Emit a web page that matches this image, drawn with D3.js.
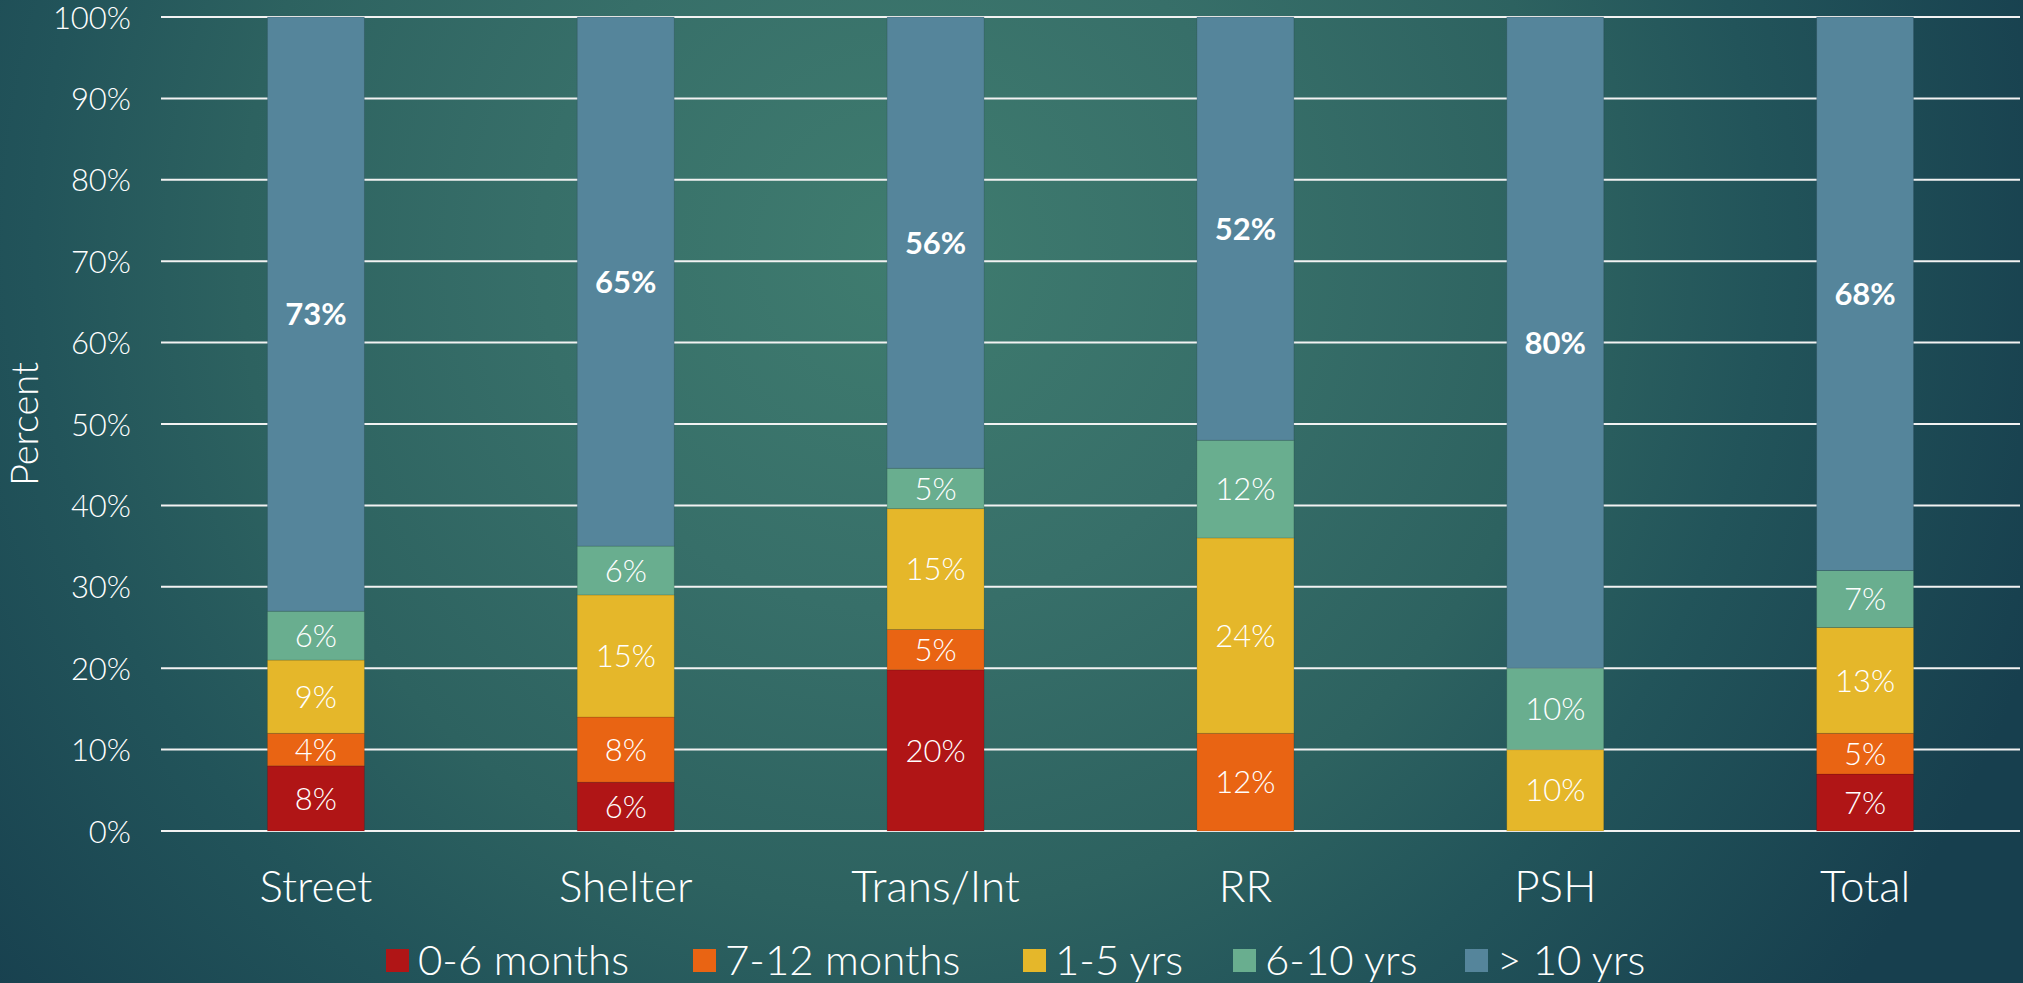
<!DOCTYPE html>
<html>
<head>
<meta charset="utf-8">
<script src="https://cdn.jsdelivr.net/npm/d3@7"></script>
<style>
  html, body { margin: 0; padding: 0; background: #1d4b54; overflow: hidden; }
  svg { display: block; }
  text { font-family: Lato, "Open Sans", sans-serif; fill: #ffffff; }
</style>
</head>
<body>
<div class="chart"></div>
<script>
// chart data
var categories = ['Street', 'Shelter', 'Trans/Int', 'RR', 'PSH', 'Total'];
var seriesNames = ['0-6 months', '7-12 months', '1-5 yrs', '6-10 yrs', '> 10 yrs'];
var months0to6 = [8, 6, 20, 0, 0, 7];
var months7to12 = [4, 8, 5, 12, 0, 5];
var yrs1to5 = [9, 15, 15, 24, 10, 13];
var yrs6to10 = [6, 6, 5, 12, 10, 7];
var yrsOver10 = [73, 65, 56, 52, 80, 68];
var yTickValues = [0, 10, 20, 30, 40, 50, 60, 70, 80, 90, 100];
var colors = ['#b01516', '#e96413', '#e5b72a', '#69ae8f', '#55859b'];

var w = 2023,
  h = 983,
  margin = { top: 17, right: 3, bottom: 152, left: 161 };

// rows for d3.stack
var seriesValues = [months0to6, months7to12, yrs1to5, yrs6to10, yrsOver10];
var rows = categories.map(function (c, i) {
  var row = { category: c };
  seriesNames.forEach(function (s, j) {
    row[s] = seriesValues[j][i];
  });
  return row;
});

// 100% stacked columns
var stack = d3.stack()
  .keys(seriesNames)
  .offset(d3.stackOffsetExpand);
var layers = stack(rows);

var svg = d3.select('.chart')
  .append('svg')
  .attr('width', w)
  .attr('height', h);

// background gradient
var defs = svg.append('defs');
var grad = defs.append('radialGradient')
  .attr('id', 'bg')
  .attr('gradientUnits', 'userSpaceOnUse')
  .attr('cx', 900)
  .attr('cy', 250)
  .attr('r', 1200);
[[0, '#3f7c6f'], [0.3, '#376f69'], [0.55, '#2d6260'], [0.72, '#22545a'], [1, '#173f4e']].forEach(function (s) {
  grad.append('stop').attr('offset', s[0]).attr('stop-color', s[1]);
});
svg.append('rect')
  .attr('width', w)
  .attr('height', h)
  .attr('fill', 'url(#bg)');

var x = d3.scaleBand()
  .domain(categories)
  .range([margin.left, w - margin.right])
  .paddingInner(0.687)
  .paddingOuter(0.687 / 2);

var y = d3.scaleLinear()
  .domain([0, 1])
  .range([h - margin.bottom, margin.top]);

// gridlines
svg.append('g')
  .attr('class', 'grid')
  .selectAll('line')
  .data(yTickValues)
  .enter()
  .append('line')
  .attr('x1', margin.left)
  .attr('x2', w - margin.right)
  .attr('y1', function (d) { return y(d / 100); })
  .attr('y2', function (d) { return y(d / 100); })
  .attr('stroke', '#f2f2f2')
  .attr('stroke-width', 2);

// y axis labels
var yAxis = d3.axisLeft(y)
  .tickValues(yTickValues.map(function (d) { return d / 100; }))
  .tickFormat(d3.format('.0%'))
  .tickSize(0)
  .tickPadding(0);

var yAxisG = svg.append('g')
  .attr('transform', 'translate(131,0)')
  .call(yAxis);
yAxisG.select('.domain').remove();
yAxisG.selectAll('text')
  .attr('fill', '#ffffff')
  .attr('font-family', 'Lato, sans-serif')
  .attr('font-weight', 300)
  .attr('font-size', 31)
  .attr('dy', '0.36em');

// x axis labels
var xAxis = d3.axisBottom(x)
  .tickSize(0)
  .tickPadding(0);
var xAxisG = svg.append('g')
  .attr('transform', 'translate(0,' + (h - margin.bottom) + ')')
  .call(xAxis);
xAxisG.select('.domain').remove();
xAxisG.selectAll('text')
  .attr('fill', '#ffffff')
  .attr('font-family', 'Lato, sans-serif')
  .attr('font-weight', 300)
  .attr('font-size', 44)
  .attr('dy', 0)
  .attr('y', 71);

// axis title
svg.append('text')
  .attr('transform', 'translate(38,424) rotate(-90)')
  .attr('text-anchor', 'middle')
  .attr('font-weight', 300)
  .attr('font-size', 38)
  .text('Percent');

// bars
var layerG = svg.selectAll('g.layer')
  .data(layers)
  .enter()
  .append('g')
  .attr('class', 'layer')
  .attr('fill', function (d, i) { return colors[i]; });

layerG.selectAll('rect')
  .data(function (d) { return d; })
  .enter()
  .append('rect')
  .attr('x', function (d) { return x(d.data.category); })
  .attr('width', x.bandwidth())
  .attr('y', function (d) { return y(d[1]); })
  .attr('height', function (d) { return y(d[0]) - y(d[1]); })
  .attr('stroke', 'rgba(0,0,0,0.12)')
  .attr('stroke-width', 1);

// data labels, the > 10 yrs ones in bold
layerG.each(function (layer, li) {
  d3.select(this).selectAll('text')
    .data(layer.filter(function (d) { return d.data[layer.key] > 0; }))
    .enter()
    .append('text')
    .attr('x', function (d) { return x(d.data.category) + x.bandwidth() / 2; })
    .attr('y', function (d) { return (y(d[0]) + y(d[1])) / 2; })
    .attr('dy', '0.36em')
    .attr('text-anchor', 'middle')
    .attr('font-size', 31)
    .attr('font-weight', li === 4 ? 'bold' : 300)
    .style('fill', '#ffffff')
    .text(function (d) { return d.data[layer.key] + '%'; });
});

// legend
var legendStart = [386, 693, 1023, 1233, 1465];
var legend = svg.append('g')
  .attr('class', 'legend')
  .selectAll('g')
  .data(seriesNames)
  .enter()
  .append('g')
  .attr('transform', function (d, i) { return 'translate(' + legendStart[i] + ',949)'; });

legend.append('rect')
  .attr('width', 23)
  .attr('height', 23)
  .attr('fill', function (d, i) { return colors[i]; });

legend.append('text')
  .attr('x', 32)
  .attr('y', 26)
  .attr('font-weight', 300)
  .attr('font-size', 42)
  .text(function (d) { return d; });
</script>
</body>
</html>
